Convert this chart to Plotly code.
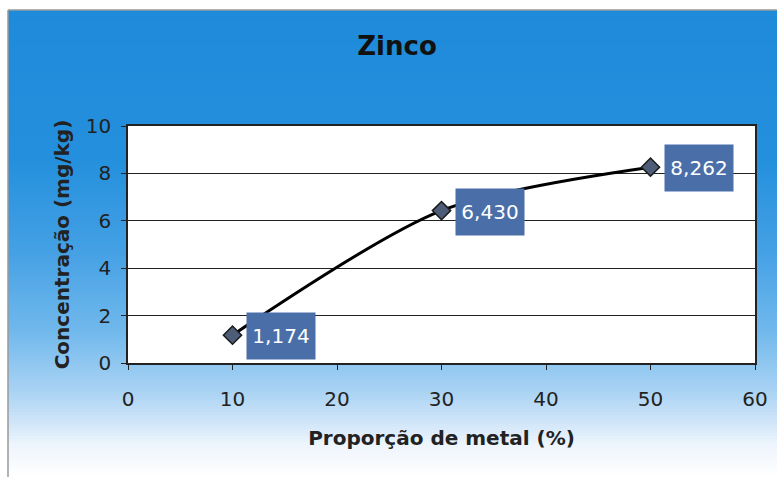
import plotly.graph_objects as go

proporcao = [10, 30, 50]
concentracao = [1.174, 6.430, 8.262]
x_ticks = [0, 10, 20, 30, 40, 50, 60]
y_ticks = [0, 2, 4, 6, 8, 10]
title = "Zinco"
x_title = "Proporção de metal (%)"
y_title = "Concentração (mg/kg)"

FONT = "DejaVu Sans, Liberation Sans, Arial"
W, H = 777, 477
L, R, T, B = 128, 22, 126, 114
pw = W - L - R
ph = H - T - B

def px2x(px):
    return (px - L) / pw

def py2y(py):
    return (H - B - py) / ph

stops = [(10, (30, 138, 218)), (160, (36, 144, 221)), (250, (68, 160, 228)),
         (330, (112, 184, 236)), (390, (168, 210, 243)), (420, (205, 228, 248)),
         (445, (238, 245, 252)), (477, (255, 255, 255))]

def col(py):
    for (a, ca), (b, cb) in zip(stops[:-1], stops[1:]):
        if a <= py <= b:
            t = (py - a) / (b - a)
            c = [round(ca[i] + (cb[i] - ca[i]) * t) for i in range(3)]
            return f"rgb({c[0]},{c[1]},{c[2]})"
    return "rgb(255,255,255)"

shapes = []
step = 3
py = 10
while py < H:
    shapes.append(dict(type="rect", xref="paper", yref="paper",
                       x0=px2x(8), x1=px2x(W + 2), y0=py2y(min(py + step + 0.5, H + 1)), y1=py2y(py),
                       fillcolor=col(py + step / 2), line=dict(width=0), layer="below"))
    py += step
# frame lines
shapes.append(dict(type="line", xref="paper", yref="paper", x0=px2x(8), x1=px2x(8),
                   y0=py2y(H + 1), y1=py2y(10), line=dict(color="#9a9a9a", width=1.5), layer="below"))
shapes.append(dict(type="line", xref="paper", yref="paper", x0=px2x(8), x1=px2x(W + 2),
                   y0=py2y(10), y1=py2y(10), line=dict(color="#9a9a9a", width=1.5), layer="below"))
# white plot area
shapes.append(dict(type="rect", xref="x", yref="y", x0=0, x1=60, y0=0, y1=10,
                   fillcolor="white", line=dict(width=0), layer="below"))

fig = go.Figure()
fig.add_trace(go.Scatter(
    x=proporcao, y=concentracao, mode="lines+markers",
    line=dict(color="black", width=3, shape="spline", smoothing=0.8),
    marker=dict(symbol="diamond", size=14, color="#4d5d78", line=dict(color="#1a1a1a", width=1.5)),
    showlegend=False, hoverinfo="skip"))

annotations = []
for xv, yv in zip(proporcao, concentracao):
    annotations.append(dict(x=xv, y=yv, xref="x", yref="y", text=f"{yv:.3f}".replace(".", ","),
                            showarrow=False, xshift=48, yshift=-1,
                            bgcolor="#4a6fa8", width=66, height=44,
                            font=dict(family=FONT, size=20, color="white")))

fig.update_layout(
    width=W, height=H,
    margin=dict(l=L, r=R, t=T, b=B, autoexpand=False),
    paper_bgcolor="white", plot_bgcolor="white",
    title=dict(text=f"<b>{title}</b>", x=397 / W, xanchor="center", y=1 - 46 / H, yanchor="middle",
               font=dict(family=FONT, size=26, color="#111")),
    font=dict(family=FONT, color="#222"),
    shapes=shapes, annotations=annotations,
    xaxis=dict(range=[0, 60], tickvals=x_ticks, showgrid=False, zeroline=False,
               showline=True, linecolor="#222", linewidth=1.5, mirror=True,
               ticks="outside", ticklen=5, tickcolor="#222", ticklabelstandoff=12,
               tickfont=dict(family=FONT, size=20, color="#222"),
               title=dict(text=f"<b>{x_title}</b>", standoff=21,
                          font=dict(family=FONT, size=20, color="#222"))),
    yaxis=dict(range=[0, 10], tickvals=y_ticks, showgrid=True, gridcolor="#222", gridwidth=1,
               zeroline=False, showline=True, linecolor="#222", linewidth=1.5, mirror=True,
               ticks="outside", ticklen=5, tickcolor="#222", ticklabelstandoff=6,
               tickfont=dict(family=FONT, size=20, color="#222"),
               title=dict(text=f"<b>{y_title}</b>", standoff=11,
                          font=dict(family=FONT, size=20, color="#222"))),
)

fig.write_html("out.html")
